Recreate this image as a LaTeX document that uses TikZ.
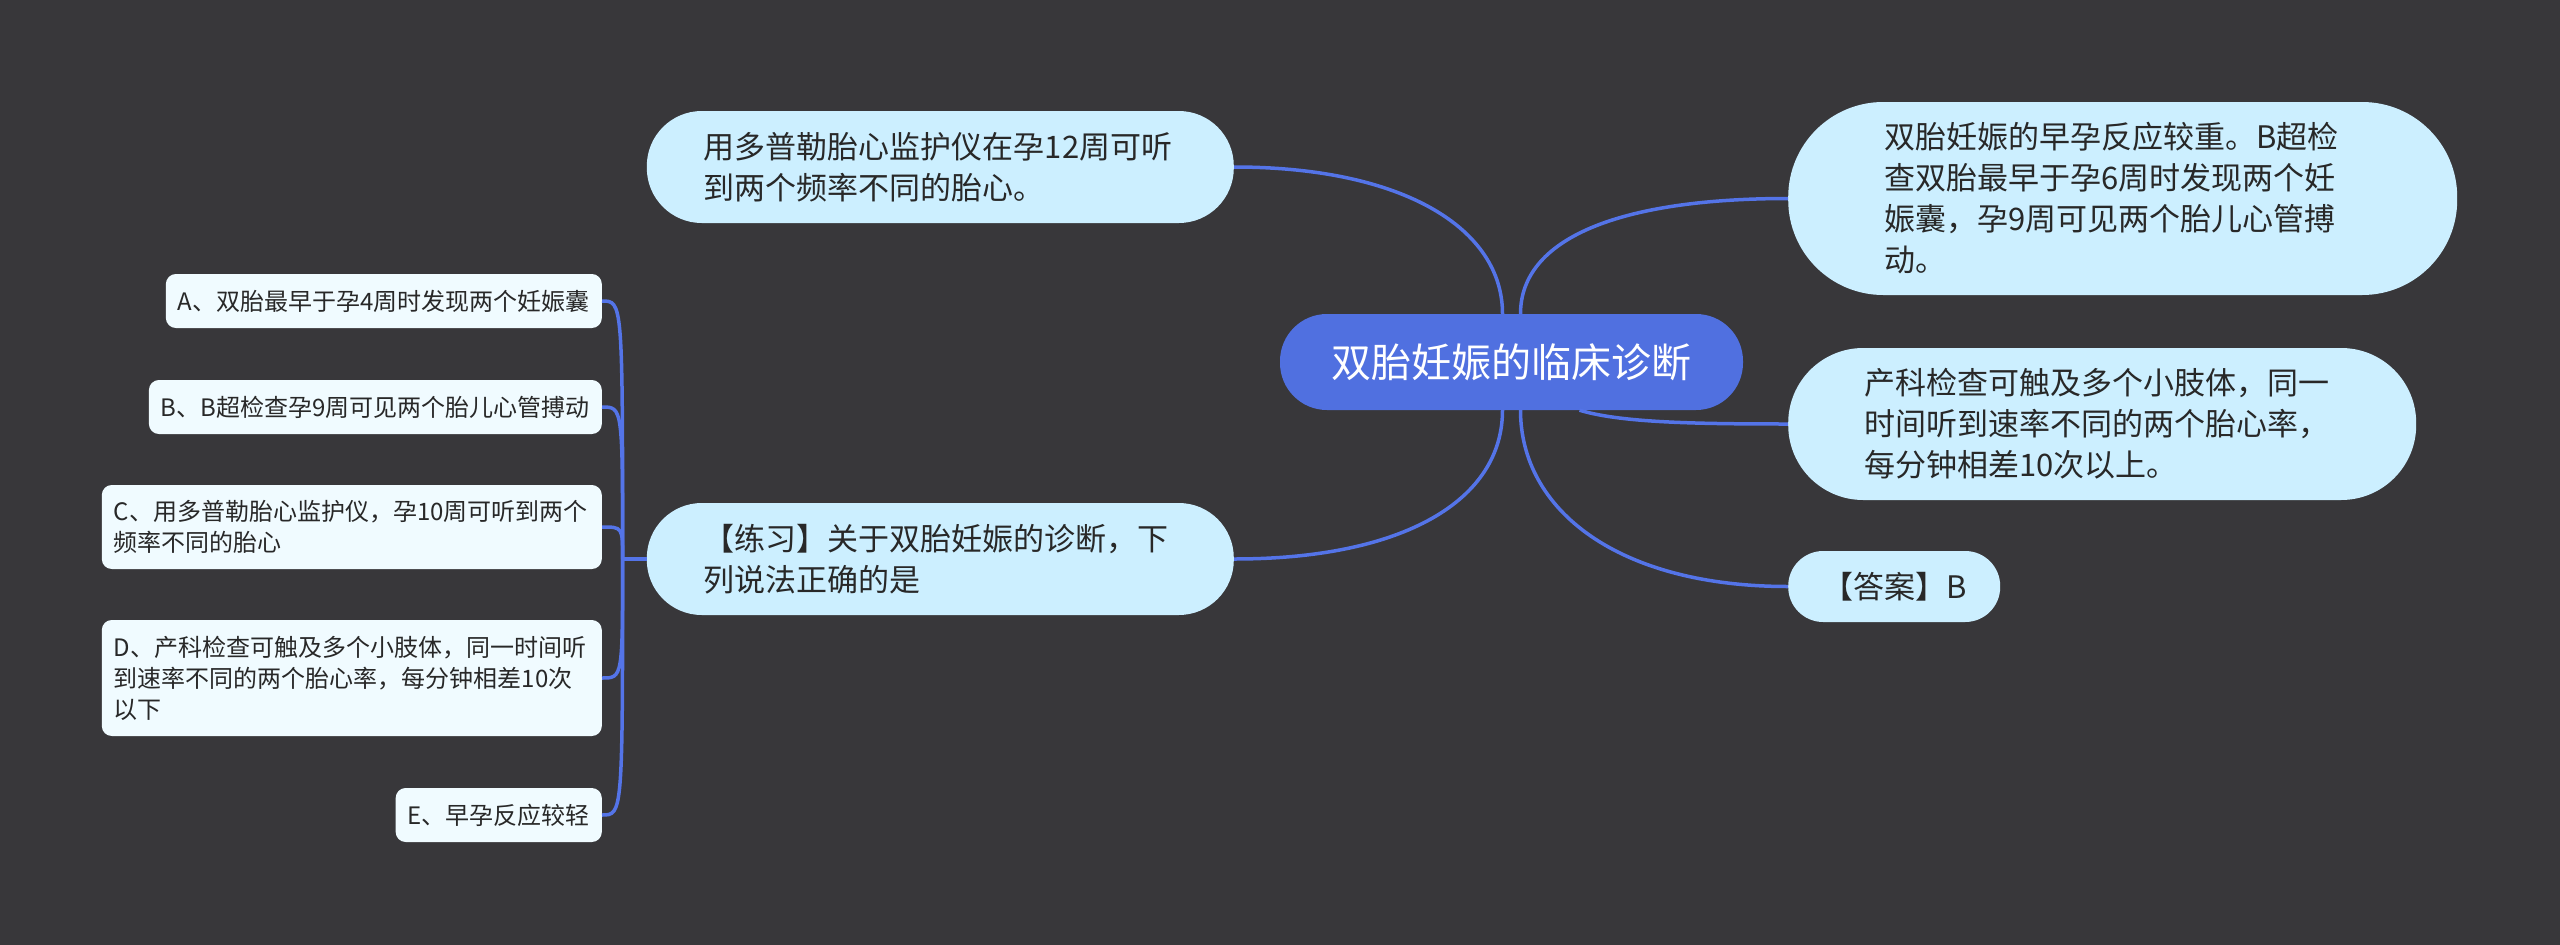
\documentclass[tikz,border=0pt]{standalone}
\usepackage{fontspec}
\newfontfamily\cjk{Noto Sans CJK SC}
\definecolor{bgcol}{RGB}{56,55,58}
\definecolor{rootblue}{RGB}{80,112,224}
\definecolor{linkblue}{RGB}{84,116,232}
\definecolor{topicfill}{RGB}{204,239,255}
\definecolor{choicefill}{RGB}{240,251,255}
\definecolor{textgray}{RGB}{40,40,40}

\begin{document}
\begin{tikzpicture}[x=1pt, y=-1pt,
    rootbox/.style={fill=rootblue, text=white, font=\cjk\fontsize{40}{48}\selectfont,
        minimum width=463pt, minimum height=96pt, rounded corners=47pt, inner sep=0pt},
    topicbox/.style={fill=topicfill, text=textgray, font=\cjk\fontsize{31}{41}\selectfont,
        align=left, inner ysep=0pt},
    choicebox/.style={fill=choicefill, text=textgray, font=\cjk\fontsize{24}{31}\selectfont,
        rounded corners=10pt, inner xsep=12pt, inner ysep=0pt, anchor=east},
    branch/.style={draw=linkblue, line width=3.5pt}]

    % Background
    \fill[bgcol] (0,0) rectangle (2560,945);
    \useasboundingbox (0,0) rectangle (2560,945);

    % Central topic
    \node[rootbox] (root) at (1511.5,362) {双胎妊娠的临床诊断};

    % Main branches
    \node[topicbox, anchor=east, text width=473pt, inner xsep=57pt, minimum height=112pt,
        rounded corners=55pt] (heart) at (1234,167)
        {用多普勒胎心监护仪在孕12周可听\\到两个频率不同的胎心。};
    \node[topicbox, anchor=east, text width=473pt, inner xsep=57pt, minimum height=112pt,
        rounded corners=55pt] (quiz) at (1234,559)
        {【练习】关于双胎妊娠的诊断，下\\列说法正确的是};
    \node[topicbox, anchor=west, text width=477pt, inner xsep=96pt, minimum height=193pt,
        rounded corners=95pt] (early) at (1788,198.5)
        {双胎妊娠的早孕反应较重。B超检\\查双胎最早于孕6周时发现两个妊\\娠囊，孕9周可见两个胎儿心管搏\\动。};
    \node[topicbox, anchor=west, text width=476pt, inner xsep=76pt, minimum height=152pt,
        rounded corners=75pt] (palp) at (1788,424)
        {产科检查可触及多个小肢体，同一\\时间听到速率不同的两个胎心率，\\每分钟相差10次以上。};
    \node[topicbox, anchor=west, align=center, inner xsep=0pt, minimum width=212pt,
        minimum height=71pt, rounded corners=35pt] (key) at (1788,586.5) {【答案】B};

    % Answer choices
    \node[choicebox, minimum width=435pt, minimum height=54pt] (optA) at (602,301)
        {A、双胎最早于孕4周时发现两个妊娠囊};
    \node[choicebox, minimum width=449pt, minimum height=54pt] (optB) at (602,407)
        {B、B超检查孕9周可见两个胎儿心管搏动};
    \node[choicebox, text width=476pt, align=left, minimum height=84pt] (optC) at (602,527)
        {C、用多普勒胎心监护仪，孕10周可听到两个\\频率不同的胎心};
    \node[choicebox, text width=476pt, align=left, minimum height=116pt] (optD) at (602,678)
        {D、产科检查可触及多个小肢体，同一时间听\\到速率不同的两个胎心率，每分钟相差10次\\以下};
    \node[choicebox, minimum width=204pt, minimum height=54pt] (optE) at (602,815)
        {E、早孕反应较轻};

    % Links from the central topic
    \draw[branch] ([xshift=-9pt]root.north) .. controls +(0,-85) and +(170,0) .. (heart.east);
    \draw[branch] ([xshift=9pt]root.north) .. controls +(0,-75) and +(-170,0) .. (early.west);
    \draw[branch] ([xshift=-9pt]root.south) .. controls +(0,90) and +(170,0) .. (quiz.east);
    \draw[branch] ([xshift=9pt]root.south) .. controls +(0,100) and +(-170,0) .. (key.west);
    \draw[branch] ([xshift=68pt]root.south) .. controls +(40,12) and +(-100,0) .. (palp.west);

    % Links to the choices
    \coordinate (hub) at ([xshift=-24pt]quiz.west);
    \draw[branch] (quiz.west) -- (hub);
    \foreach \opt in {optA,optB,optC,optD,optE} {
        \draw[branch] (hub) .. controls (hub |- \opt.east) .. (\opt.east);
    }
\end{tikzpicture}
\end{document}
